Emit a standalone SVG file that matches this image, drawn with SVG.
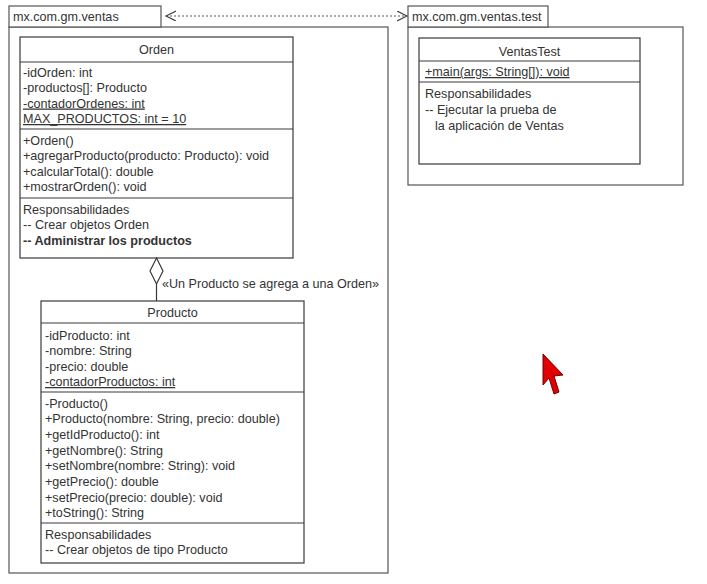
<svg xmlns="http://www.w3.org/2000/svg" width="707" height="584" viewBox="0 0 707 584">
<defs>
<style>
.box{fill:#fff;stroke:#3a3a3a;stroke-width:1.2}
.pkg{fill:#fff;stroke:#555;stroke-width:1.2}
.ln{stroke:#3a3a3a;stroke-width:1.2;fill:none}
text{font-family:"Liberation Sans",Arial,sans-serif;font-size:12.6px;fill:#333}
.c{text-anchor:middle}
.u{text-decoration:underline}
.b{font-weight:bold}
</style>
<marker id="open" markerWidth="12" markerHeight="12" refX="10" refY="5" orient="auto-start-reverse" markerUnits="userSpaceOnUse">
<path d="M0,0 L10,5 L0,10" fill="none" stroke="#444" stroke-width="1.2"/>
</marker>
</defs>
<rect width="707" height="584" fill="#fff"/>

<g id="pkg-ventas">
<rect class="pkg" x="9" y="27" width="379" height="546"/>
<rect class="pkg" x="9" y="6" width="152" height="21"/>
<text x="13" y="20.5">mx.com.gm.ventas</text>
</g>

<g id="pkg-test">
<rect class="pkg" x="408" y="27" width="275" height="158"/>
<rect class="pkg" x="408" y="6" width="140" height="21"/>
<text x="412" y="20.5">mx.com.gm.ventas.test</text>
</g>

<g id="Orden">
<rect class="box" x="20" y="37" width="273" height="221"/>
<line class="ln" x1="20" y1="62" x2="293" y2="62"/>
<line class="ln" x1="20" y1="129" x2="293" y2="129"/>
<line class="ln" x1="20" y1="198" x2="293" y2="198"/>
<text class="c" x="156.5" y="53.5">Orden</text>
<text x="23" y="76.5">-idOrden: int</text>
<text x="23" y="92">-productos[]: Producto</text>
<text x="23" y="107.5" class="u">-contadorOrdenes: int</text>
<text x="23" y="123" class="u">MAX_PRODUCTOS: int = 10</text>
<text x="23" y="144.5">+Orden()</text>
<text x="23" y="160">+agregarProducto(producto: Producto): void</text>
<text x="23" y="175.5">+calcularTotal(): double</text>
<text x="23" y="191">+mostrarOrden(): void</text>
<text x="23" y="213.5">Responsabilidades</text>
<text x="23" y="229">-- Crear objetos Orden</text>
<text x="23" y="244.5" class="b">-- Administrar los productos</text>
</g>

<g id="Producto">
<rect class="box" x="41" y="301" width="263" height="262"/>
<line class="ln" x1="41" y1="323" x2="304" y2="323"/>
<line class="ln" x1="41" y1="392" x2="304" y2="392"/>
<line class="ln" x1="41" y1="523" x2="304" y2="523"/>
<text class="c" x="172.5" y="316.5">Producto</text>
<text x="45" y="339.5">-idProducto: int</text>
<text x="45" y="355">-nombre: String</text>
<text x="45" y="370.5">-precio: double</text>
<text x="45" y="386" class="u">-contadorProductos: int</text>
<text x="45" y="407.5">-Producto()</text>
<text x="45" y="423.2">+Producto(nombre: String, precio: double)</text>
<text x="45" y="438.9">+getIdProducto(): int</text>
<text x="45" y="454.6">+getNombre(): String</text>
<text x="45" y="470.3">+setNombre(nombre: String): void</text>
<text x="45" y="486">+getPrecio(): double</text>
<text x="45" y="501.7">+setPrecio(precio: double): void</text>
<text x="45" y="517.4">+toString(): String</text>
<text x="45" y="538.5">Responsabilidades</text>
<text x="45" y="554">-- Crear objetos de tipo Producto</text>
</g>

<g id="VentasTest">
<rect class="box" x="419" y="38" width="221" height="126"/>
<line class="ln" x1="419" y1="61" x2="640" y2="61"/>
<line class="ln" x1="419" y1="82" x2="640" y2="82"/>
<text class="c" x="529.5" y="55.5">VentasTest</text>
<text x="425" y="76" class="u">+main(args: String[]): void</text>
<text x="425" y="97.5">Responsabilidades</text>
<text x="425" y="113.5">-- Ejecutar la prueba de</text>
<text x="435" y="129.5">la aplicación de Ventas</text>
</g>

<g id="connectors">
<line x1="166" y1="16" x2="407" y2="16" stroke="#555" stroke-width="1" stroke-dasharray="2,2" marker-start="url(#open)" marker-end="url(#open)"/>
<line class="ln" x1="156.5" y1="284" x2="156.5" y2="301"/>
<polygon points="156.5,258 163,271 156.5,284 150,271" fill="#fff" stroke="#3a3a3a" stroke-width="1.2"/>
<text x="162" y="287.5">«Un Producto se agrega a una Orden»</text>
</g>

<g id="cursor">
<polygon points="543,354 543,385 549,378 554,394 559,392 554,376 563,375" fill="#e00000" stroke="#700" stroke-width="1"/>
</g>
</svg>
